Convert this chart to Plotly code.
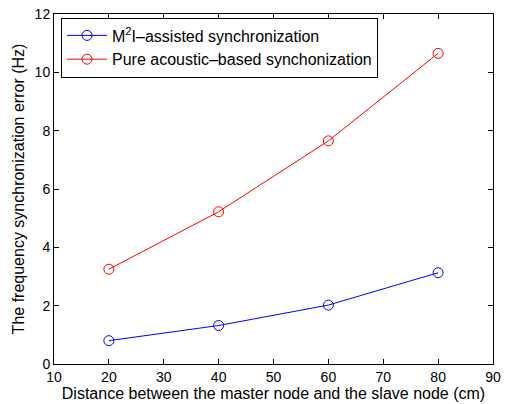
import plotly.graph_objects as go

distance = [20, 40, 60, 80]
m2i_err = [0.8, 1.32, 2.02, 3.13]
acoustic_err = [3.25, 5.22, 7.65, 10.65]
x_ticks = [10, 20, 30, 40, 50, 60, 70, 80, 90]
y_ticks = [0, 2, 4, 6, 8, 10, 12]

fig = go.Figure()
fig.add_trace(go.Scatter(
    x=distance, y=m2i_err, mode="lines+markers",
    name="M<sup>2</sup>I\u2013assisted synchronization",
    line=dict(color="#0000ff", width=1),
    marker=dict(symbol="circle-open", size=10, color="#0000ff", line=dict(width=1)),
))
fig.add_trace(go.Scatter(
    x=distance, y=acoustic_err, mode="lines+markers",
    name="Pure acoustic\u2013based synchonization",
    line=dict(color="#ff0000", width=1),
    marker=dict(symbol="circle-open", size=10, color="#ff0000", line=dict(width=1)),
))

axis_common = dict(
    showgrid=False, zeroline=False, showline=True, linecolor="black", linewidth=1,
    mirror="ticks", ticks="inside", ticklen=5, tickcolor="black",
    tickfont=dict(size=14, color="black"), ticklabeloverflow="allow",
)
fig.update_xaxes(range=[10, 90], tickvals=x_ticks,
                 title=dict(text="Distance between the master node and the slave node (cm)",
                            font=dict(size=16, color="black"), standoff=2),
                 **axis_common)
fig.update_yaxes(range=[0, 12], tickvals=y_ticks,
                 title=dict(text="The frequency synchronization error (Hz)",
                            font=dict(size=16, color="black"), standoff=6),
                 **axis_common)

fig.update_layout(
    width=507, height=404,
    margin=dict(l=54, r=6, t=13, b=38),
    paper_bgcolor="white", plot_bgcolor="white",
    font=dict(family="Liberation Sans, Arial, sans-serif", size=14, color="black"),
    legend=dict(x=0.016, y=0.99, xanchor="left", yanchor="top",
                bordercolor="black", borderwidth=1, bgcolor="white",
                font=dict(size=16), tracegroupgap=0, itemwidth=40),
    showlegend=True,
)
fig.write_html("out.html")
